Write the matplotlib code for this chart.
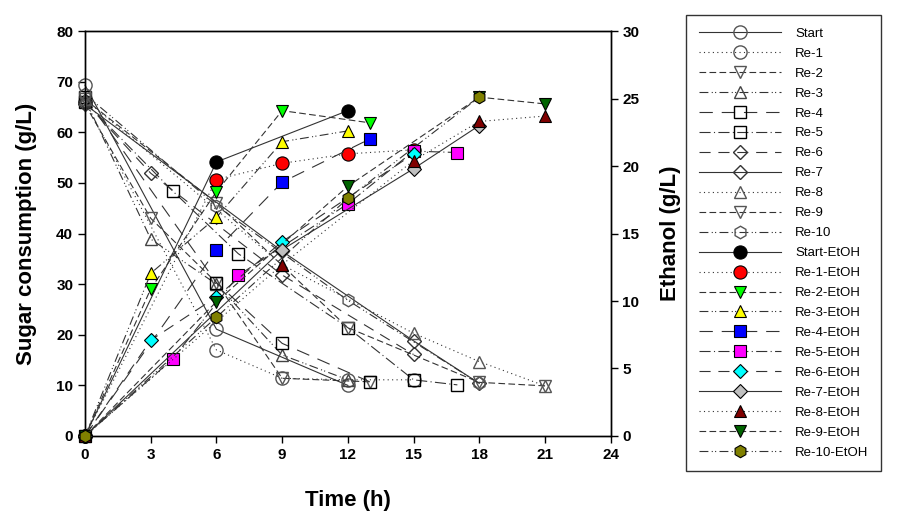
import matplotlib
matplotlib.use("Agg")
import matplotlib.pyplot as plt

plt.rcParams['font.family'] = ['Liberation Sans', 'DejaVu Sans']

# ---------------- data ----------------
series_names = ["Start", "Re-1", "Re-2", "Re-3", "Re-4", "Re-5",
                "Re-6", "Re-7", "Re-8", "Re-9", "Re-10"]

# sugar (left axis)
start_t = [0, 6, 12];              start_s = [69.3, 21.1, 10.0]
re1_t = [0, 6, 9, 12, 15];         re1_s = [66.0, 17.0, 11.4, 11.1, 11.1]
re2_t = [0, 3, 6, 9, 13];          re2_s = [65.5, 43.0, 30.3, 11.4, 10.7]
re3_t = [0, 3, 6, 9, 12];          re3_s = [66.5, 38.9, 30.0, 16.0, 11.1]
re4_t = [0, 6, 9, 13];             re4_s = [67.0, 30.3, 18.3, 10.7]
re5_t = [0, 4, 7, 12, 15, 17];     re5_s = [66.0, 48.4, 36.0, 21.4, 11.1, 10.1]
re6_t = [0, 3, 9, 15];             re6_s = [66.0, 51.9, 31.8, 16.1]
re7_t = [0, 9, 15, 18];            re7_s = [65.5, 36.5, 18.8, 10.4]
re8_t = [0, 9, 15, 18, 21];        re8_s = [66.5, 33.8, 20.3, 14.7, 9.9]
re9_t = [0, 6, 12, 18, 21];        re9_s = [66.5, 46.0, 21.4, 10.6, 9.9]
re10_t = [0, 6, 12, 18];           re10_s = [67.5, 45.5, 26.8, 10.4]

# ethanol (right axis)
start_e = [0, 20.3, 24.1]
re1_e = [0, 19.0, 20.2, 20.9, 21.2]
re2_e = [0, 10.9, 18.1, 24.1, 23.2]
re3_e = [0, 12.05, 16.2, 21.8, 22.6]
re4_e = [0, 13.8, 18.8, 22.0]
re5_e = [0, 5.7, 11.9, 17.2, 21.1, 21.0]
re6_e = [0, 7.1, 10.3, 14.4, 20.9]
re6e_t = [0, 3, 6, 9, 15]
re7_e = [0, 13.8, 19.8, 23.0]
re8_e = [0, 12.7, 20.4, 23.3, 23.7]
re9_e = [0, 9.95, 18.5, 25.1, 24.6]
re10_e = [0, 8.8, 17.6, 25.1]

x_ticks = [0, 3, 6, 9, 12, 15, 18, 21, 24]
y_ticks = [0, 10, 20, 30, 40, 50, 60, 70, 80]
y2_ticks = [0, 5, 10, 15, 20, 25, 30]

# ---------------- styles ----------------
sugar_t = [start_t, re1_t, re2_t, re3_t, re4_t, re5_t, re6_t, re7_t, re8_t, re9_t, re10_t]
sugar_v = [start_s, re1_s, re2_s, re3_s, re4_s, re5_s, re6_s, re7_s, re8_s, re9_s, re10_s]
eth_t = [start_t, re1_t, re2_t, re3_t, re4_t, re5_t, re6e_t, re7_t, re8_t, re9_t, re10_t]
eth_v = [start_e, re1_e, re2_e, re3_e, re4_e, re5_e, re6_e, re7_e, re8_e, re9_e, re10_e]

markers = ['o', 'o', 'v', '^', 's', 's', 'D', 'D', '^', 'v', 'h']
msizes = [9.5, 9.5, 9, 9, 8, 8, 7, 7, 9, 9, 9]
lstyles = ['-', (0, (1, 3)), (0, (6, 3)), (0, (8, 3, 1, 2, 1, 3)),
           (0, (12, 8)), (0, (10, 3, 1, 3)), (0, (10, 7)), '-',
           (0, (1, 3)), (0, (6, 3)), (0, (8, 3, 1, 2, 1, 3))]
eth_colors = ['#000000', '#ff0000', '#00ff00', '#ffff00', '#0000ff', '#ff00ff',
              '#00ffff', '#c0c0c0', '#800000', '#006400', '#808000']
sugar_edge = ['#555555', '#555555', '#555555', '#444444', '#000000', '#000000',
              '#333333', '#333333', '#555555', '#555555', '#555555']

fig = plt.figure(figsize=(8.97, 5.15), dpi=100)
ax = fig.add_axes([0.0948, 0.1534, 0.586, 0.7864])
ax2 = ax.twinx()

handles = []
for i, name in enumerate(series_names):
    ln, = ax.plot(sugar_t[i], sugar_v[i], linestyle=lstyles[i], color='#333333', lw=0.8,
                  marker=markers[i], ms=msizes[i], mfc='none', mec=sugar_edge[i], mew=1.0,
                  clip_on=False, zorder=3)
    handles.append((ln, name))

for i, name in enumerate(series_names):
    ln, = ax2.plot(eth_t[i], eth_v[i], linestyle=lstyles[i], color='#333333', lw=0.8,
                   marker=markers[i], ms=msizes[i], mfc=eth_colors[i], mec='#000000', mew=0.8,
                   clip_on=False, zorder=3)
    handles.append((ln, name + "-EtOH"))

ax.set_xlim(0, 24)
ax.set_ylim(0, 80)
ax2.set_ylim(0, 30)
ax.set_xticks(x_ticks)
ax.set_yticks(y_ticks)
ax2.set_yticks(y2_ticks)

for a in (ax, ax2):
    a.tick_params(direction='out', length=5, width=1, labelsize=11)
    for lab in a.get_xticklabels() + a.get_yticklabels():
        lab.set_fontweight('bold')
    for sp in a.spines.values():
        sp.set_linewidth(1.0)

ax.set_xlabel("Time (h)", fontsize=16, fontweight='bold', labelpad=20)
ax.set_ylabel("Sugar consumption (g/L)", fontsize=16, fontweight='bold', labelpad=14)
ax2.set_ylabel("Ethanol (g/L)", fontsize=16, fontweight='bold', labelpad=15)

leg = fig.legend([h for h, _ in handles], [n for _, n in handles],
                 loc='upper left', bbox_to_anchor=(0.765, 0.971),
                 frameon=True, fancybox=False, edgecolor='black',
                 fontsize=9.5, handlelength=6.2, labelspacing=0.585,
                 handletextpad=1.1, borderpad=0.95, borderaxespad=0)
leg.get_frame().set_linewidth(1.0)

fig.savefig("out.png", dpi=100)
